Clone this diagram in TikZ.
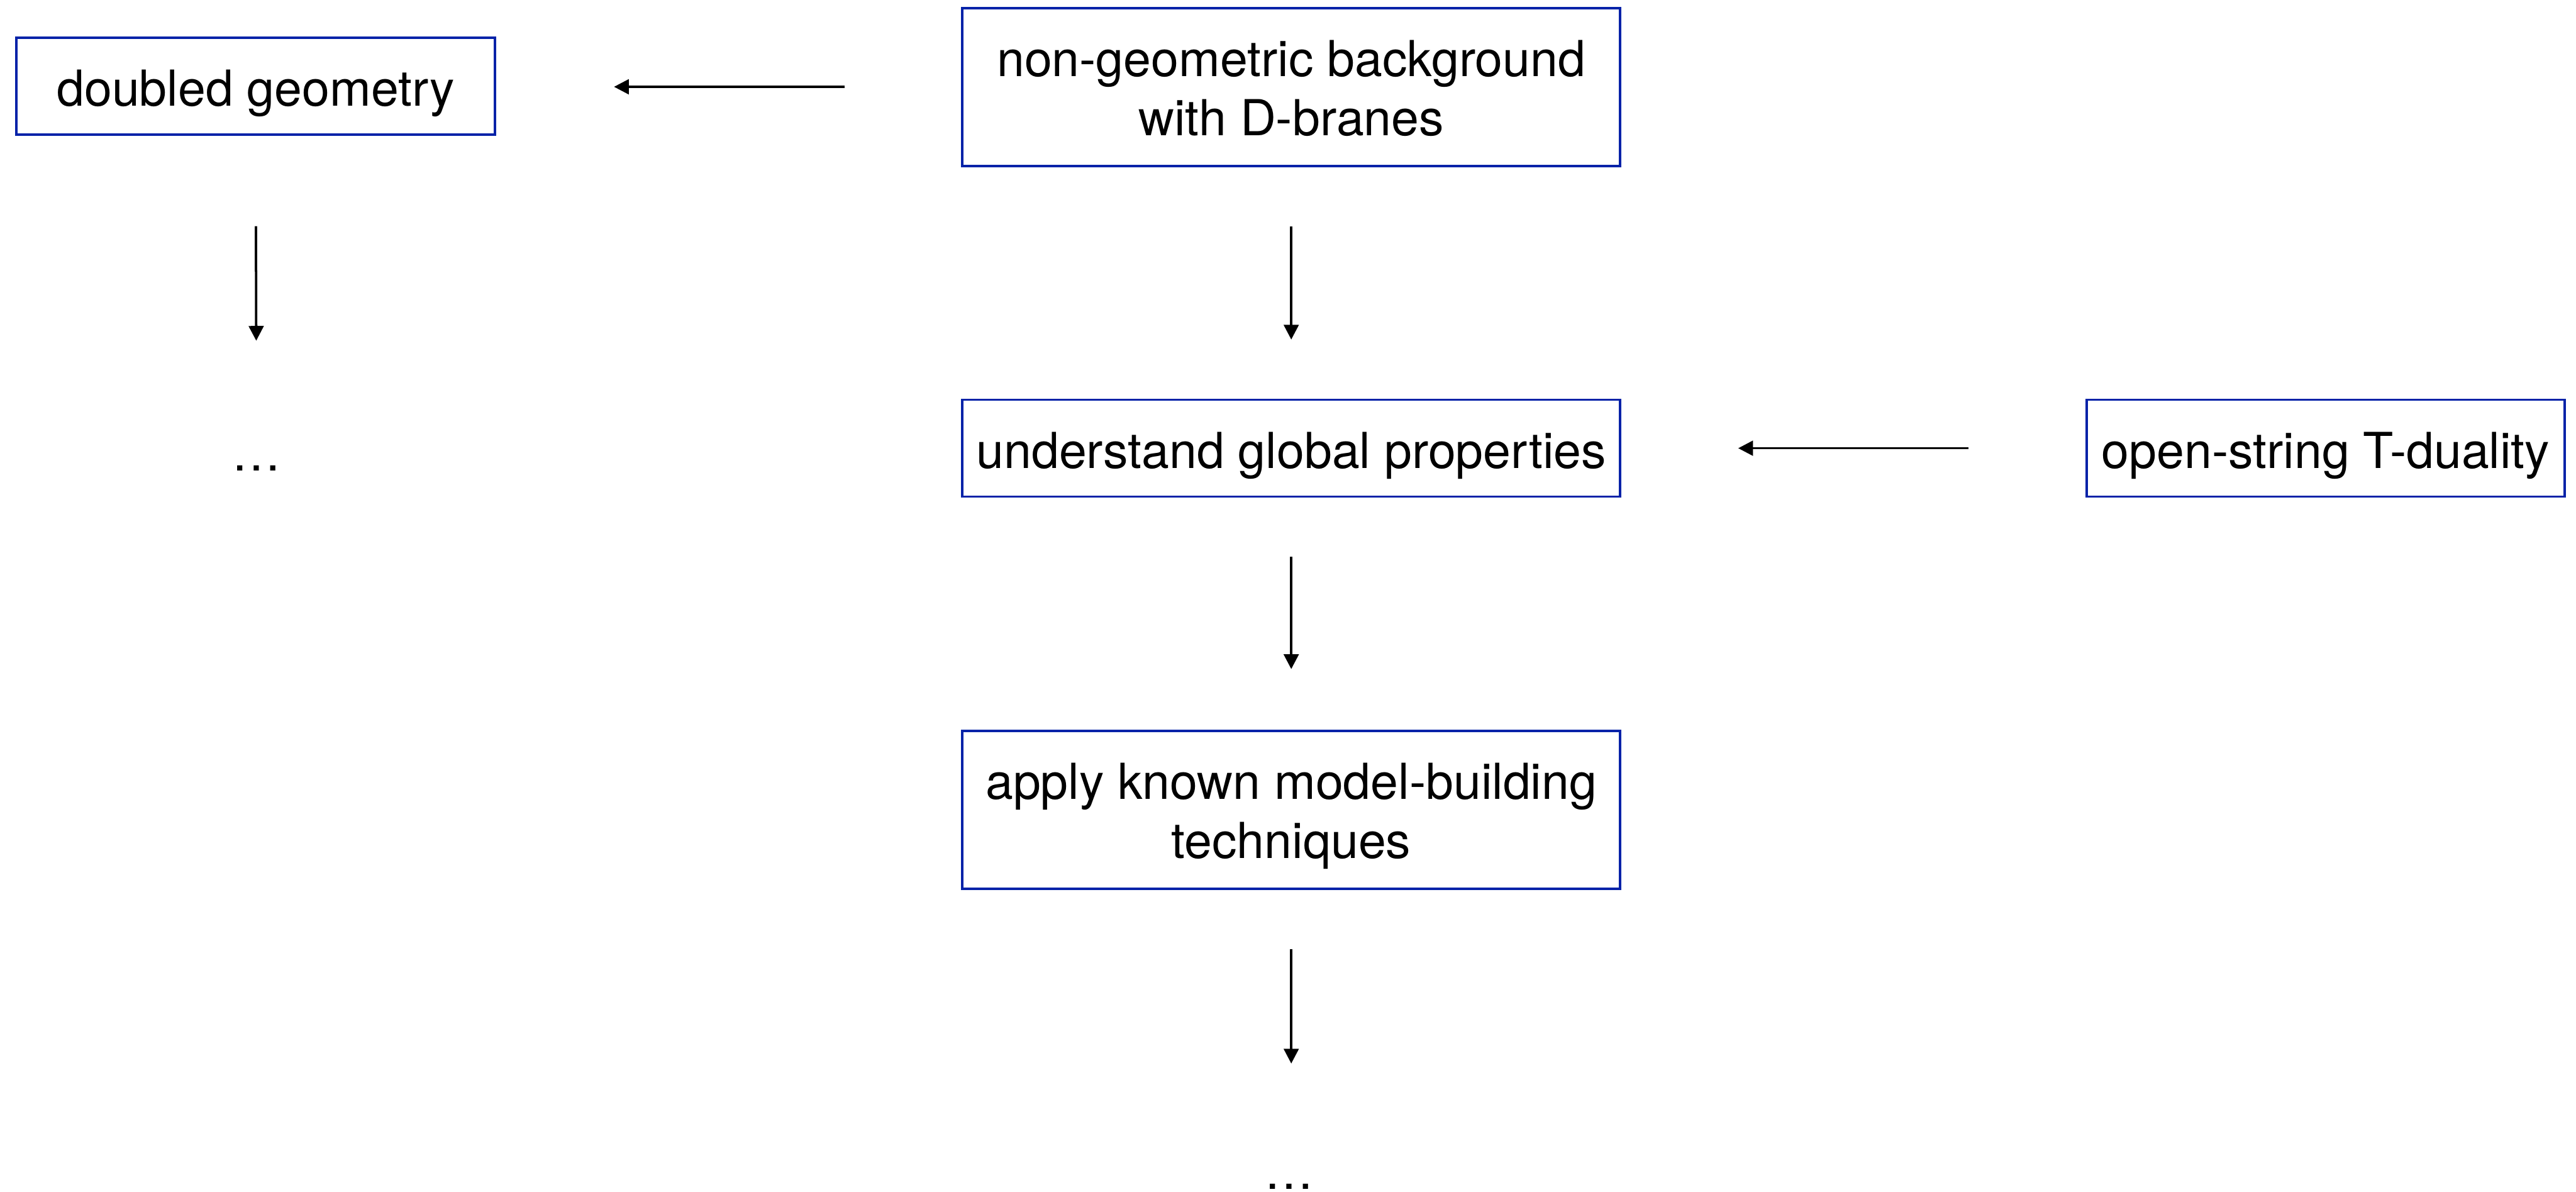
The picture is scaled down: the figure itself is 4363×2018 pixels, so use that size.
\documentclass[tikz,border=0pt]{standalone}
\usepackage{fontspec}
\setmainfont{TeX Gyre Heros}
\usetikzlibrary{arrows.meta}
\definecolor{boxblue}{RGB}{4,34,168}
\newcommand{\topstrut}{\rule{0pt}{82pt}}
\newcommand{\botstrut}{\rule[-18pt]{0pt}{18pt}}
\tikzset{
  stagebox/.style={draw=boxblue, line width=4pt, inner sep=0pt, align=center,
    font=\fontsize{84}{100}\selectfont},
  oneline/.style={stagebox, text height=84pt, text depth=16pt, minimum height=164pt},
  twoline/.style={stagebox, minimum height=267pt},
  flowarrow/.style={line width=4pt, -{Triangle[length=25pt,width=25pt]}},
  dotsnode/.style={anchor=base, inner sep=0pt, font=\fontsize{84}{100}\selectfont}
}
\begin{document}
\begin{tikzpicture}[x=1pt,y=-1pt]
\useasboundingbox (0,0) rectangle (4363,2018);
\node[oneline, minimum width=810pt] (dg) at (433,146) {doubled geometry};
\node[twoline, minimum width=1114pt] (ng) at (2187,147.5) {\topstrut non-geometric background\\with D-branes\botstrut};
\node[oneline, minimum width=1114pt] (ug) at (2187,759) {understand global properties};
\node[oneline, minimum width=810pt] (os) at (3939,759) {open-string T-duality};
\node[twoline, minimum width=1114pt] (ap) at (2187,1371.5) {\topstrut apply known model-building\\techniques\botstrut};
\node[dotsnode] (d1) at (434,797) {…};
\node[dotsnode] (d2) at (2184,2014) {…};
\coordinate (e1) at (434,577);
\coordinate (e2) at (2187,1801);
\draw[flowarrow, shorten <=197pt, shorten >=200pt] (ng.west |- 0,147) -- (dg.east |- 0,147);
\draw[flowarrow, shorten <=100pt, shorten >=100pt] (ng.south) -- (ug.north);
\draw[flowarrow, shorten <=198pt, shorten >=198pt] (os.west) -- (ug.east);
\draw[flowarrow, shorten <=100pt, shorten >=103pt] (ug.south) -- (ap.north);
\draw[flowarrow, shorten <=153pt] (dg.south) -- (e1);
\draw[flowarrow, shorten <=100pt] (ap.south) -- (e2);
\end{tikzpicture}
\end{document}
